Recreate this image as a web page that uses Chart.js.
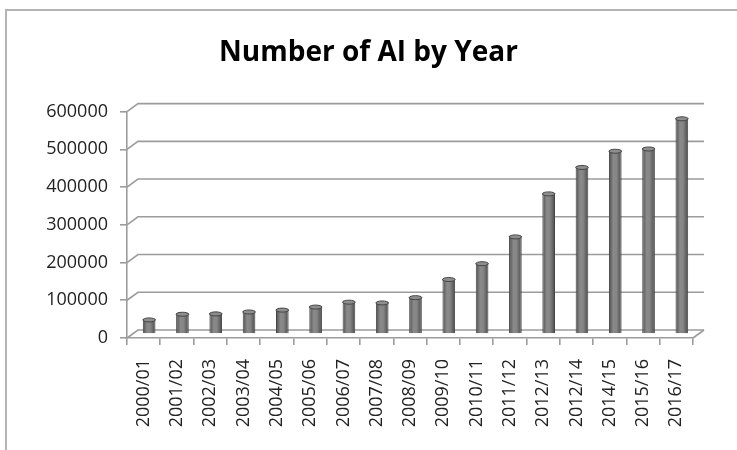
<!DOCTYPE html>
<html>
<head>
<meta charset="utf-8">
<script src="https://cdn.jsdelivr.net/npm/chart.js@4/dist/chart.umd.min.js"></script>
<style>
  html, body { margin: 0; padding: 0; background: #fff; }
  #wrap { position: relative; width: 737px; height: 450px; }
  #frame { position: absolute; left: 5px; top: 9px; width: 760px; height: 470px; border: 2px solid #b4b4b4; box-sizing: border-box; }
</style>
</head>
<body>
<div id="wrap">
  <div id="frame"></div>
  <canvas id="aiChart" width="737" height="450"></canvas>
</div>
<script>
const years = ['2000/01', '2001/02', '2002/03', '2003/04', '2004/05', '2005/06', '2006/07', '2007/08', '2008/09',
  '2009/10', '2010/11', '2011/12', '2012/13', '2012/14', '2014/15', '2015/16', '2016/17'];
const aiCounts = [40000, 55000, 56000, 61000, 66000, 74000, 87000, 85000, 99000,
  147000, 189000, 260000, 374000, 444000, 487000, 493000, 573000];
const yTicks = [0, 100000, 200000, 300000, 400000, 500000, 600000];

// pseudo 3D depth
const DX = 11, DY = -8;
const BAR_PCT = 0.38;
const lineGray = '#9c9c9c';

function barFill(c) {
  const chart = c.chart;
  const xs = chart.scales.x;
  if (!xs || !chart.chartArea) return '#7a7a7a';
  const cx = xs.getPixelForValue(c.dataIndex);
  const half = xs.width / years.length * BAR_PCT / 2;
  const g = chart.ctx.createLinearGradient(cx - half, 0, cx + half, 0);
  g.addColorStop(0, '#4e4e4e');
  g.addColorStop(0.35, '#8a8a8a');
  g.addColorStop(0.6, '#858585');
  g.addColorStop(1, '#4a4a4a');
  return g;
}

// back wall grid, floor and bar offset
const depthPlugin = {
  id: 'depth',
  beforeDatasetsDraw(chart) {
    const { ctx, chartArea: a, scales: { y } } = chart;
    ctx.save();
    ctx.strokeStyle = lineGray;
    ctx.lineWidth = 1.6;
    yTicks.forEach(v => {
      const py = y.getPixelForValue(v);
      ctx.beginPath();
      ctx.moveTo(a.left, py);
      ctx.lineTo(a.left + DX, py + DY);
      ctx.lineTo(a.right + DX, py + DY);
      ctx.stroke();
    });
    ctx.beginPath();
    ctx.moveTo(a.right, a.bottom);
    ctx.lineTo(a.right + DX, a.bottom + DY);
    ctx.stroke();
    ctx.restore();
    ctx.save();
    ctx.translate(5.5, -4);
  },
  afterDatasetsDraw(chart) {
    const ctx = chart.ctx;
    chart.getDatasetMeta(0).data.forEach(el => {
      const hw = el.width / 2;
      ctx.beginPath();
      ctx.ellipse(el.x, el.y + 1, hw, 2, 0, 0, Math.PI * 2);
      ctx.fillStyle = '#8e8e8e';
      ctx.fill();
      ctx.strokeStyle = '#444';
      ctx.lineWidth = 1;
      ctx.stroke();
    });
    ctx.restore();
  }
};

const tickFont = { family: 'Open Sans', size: 18 };

new Chart(document.getElementById('aiChart').getContext('2d'), {
  type: 'bar',
  data: {
    labels: years,
    datasets: [{
      label: 'Number of AI',
      data: aiCounts,
      backgroundColor: barFill,
      borderColor: '#454545',
      borderWidth: 1,
      borderSkipped: 'bottom',
      categoryPercentage: 1,
      barPercentage: BAR_PCT
    }]
  },
  options: {
    responsive: false,
    animation: false,
    layout: { padding: 0 },
    plugins: {
      legend: { display: false },
      tooltip: { enabled: false },
      title: {
        display: true,
        text: 'Number of AI by Year',
        color: '#000',
        font: { family: 'Open Sans', size: 28, weight: 'bold', lineHeight: 1.2 },
        padding: { top: 36, bottom: 42 }
      }
    },
    scales: {
      x: {
        grid: { drawOnChartArea: false, drawTicks: true, tickLength: 7, color: lineGray, lineWidth: 1.6 },
        border: { display: true, color: lineGray, width: 1.6 },
        ticks: {
          color: '#222',
          font: tickFont,
          minRotation: 90,
          maxRotation: 90,
          padding: 14,
          autoSkip: false
        },
        afterFit(s) { s.height = 112; }
      },
      y: {
        min: 0,
        max: 600000,
        grid: { drawOnChartArea: false, drawTicks: true, tickLength: 7, color: lineGray, lineWidth: 1.6 },
        border: { display: true, color: lineGray, width: 1.6 },
        ticks: {
          stepSize: 100000,
          color: '#222',
          font: tickFont,
          padding: 12,
          callback: v => String(v)
        },
        afterFit(s) { s.width = 127; }
      },
      // empty right-hand space so the title stays centred on the canvas
      yRight: {
        position: 'right',
        display: true,
        grid: { display: false },
        border: { display: false },
        ticks: { display: false },
        afterFit(s) { s.width = 44; }
      }
    }
  },
  plugins: [depthPlugin]
});
</script>
</body>
</html>
